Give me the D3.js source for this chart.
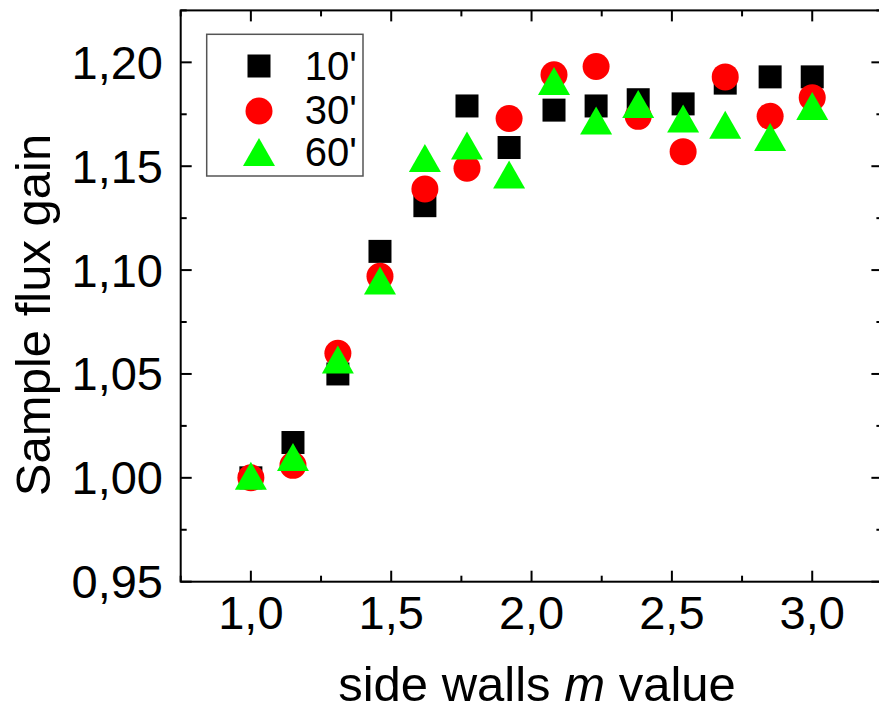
<!DOCTYPE html>
<html>
<head>
<meta charset="utf-8">
<script src="https://cdn.jsdelivr.net/npm/d3@7"></script>
<style>
  html, body { margin: 0; padding: 0; background: #fff; }
  svg { display: block; font-family: Arial, "Liberation Sans", sans-serif; }
</style>
</head>
<body>
<svg id="chart" width="879" height="711"></svg>
<script>
// ---- data ----
const mValues = [1.00, 1.15, 1.31, 1.46, 1.62, 1.77, 1.92, 2.08, 2.23, 2.38, 2.54, 2.69, 2.85, 3.00];
const gain10 = [1.000, 1.017, 1.050, 1.109, 1.131, 1.179, 1.159, 1.177, 1.179, 1.182, 1.180, 1.190, 1.193, 1.193];
const gain30 = [1.000, 1.006, 1.060, 1.097, 1.139, 1.149, 1.173, 1.194, 1.198, 1.174, 1.157, 1.193, 1.174, 1.183];
const gain60 = [1.001, 1.010, 1.057, 1.095, 1.154, 1.160, 1.146, 1.191, 1.172, 1.180, 1.173, 1.170, 1.164, 1.179];
const seriesNames = ["10'", "30'", "60'"];
const xTickValues = [1.0, 1.5, 2.0, 2.5, 3.0];
const xTickLabels = ["1,0", "1,5", "2,0", "2,5", "3,0"];
const yTickValues = [0.95, 1.00, 1.05, 1.10, 1.15, 1.20];
const yTickLabels = ["0,95", "1,00", "1,05", "1,10", "1,15", "1,20"];
const xMinor = [0.75, 1.25, 1.75, 2.25, 2.75, 3.25];
const yMinor = [0.975, 1.025, 1.075, 1.125, 1.175, 1.225];

(function () {
// ---- layout ----
const svg = d3.select("#chart");
const pLeft = 180.7, pRight = 882.4, pTop = 10.4, pBottom = 581.7;
const x = d3.scaleLinear().domain([0.75, 3.25]).range([pLeft, pRight]);
const y = d3.scaleLinear().domain([0.95, 1.225]).range([pBottom, pTop]);

const fontSize = 47;
const axisColor = "#000";

// frame
svg.append("rect")
  .attr("x", pLeft).attr("y", pTop)
  .attr("width", pRight - pLeft).attr("height", pBottom - pTop)
  .attr("fill", "none").attr("stroke", axisColor).attr("stroke-width", 2);

// ticks (inward) on all four sides
function addTicks(vals, len) {
  const g = svg.append("g").attr("stroke", axisColor).attr("stroke-width", 2);
  vals.x.forEach(v => {
    const px = x(v);
    g.append("line").attr("x1", px).attr("x2", px).attr("y1", pBottom).attr("y2", pBottom - len);
    g.append("line").attr("x1", px).attr("x2", px).attr("y1", pTop).attr("y2", pTop + len);
  });
  vals.y.forEach(v => {
    const py = y(v);
    g.append("line").attr("x1", pLeft).attr("x2", pLeft + len).attr("y1", py).attr("y2", py);
    g.append("line").attr("x1", pRight).attr("x2", pRight - len).attr("y1", py).attr("y2", py);
  });
}
addTicks({x: xTickValues, y: yTickValues}, 11);
addTicks({x: xMinor, y: yMinor}, 6);

// tick labels
svg.append("g").selectAll("text").data(xTickValues).join("text")
  .attr("x", d => x(d)).attr("y", 629)
  .attr("text-anchor", "middle").attr("font-size", fontSize).attr("fill", "#000")
  .text((d, i) => xTickLabels[i]);
svg.append("g").selectAll("text").data(yTickValues).join("text")
  .attr("x", 163).attr("y", d => y(d))
  .attr("dy", "0.35em")
  .attr("text-anchor", "end").attr("font-size", fontSize).attr("fill", "#000")
  .text((d, i) => yTickLabels[i]);

// axis titles
const xt = svg.append("text")
  .attr("x", 537).attr("y", 701)
  .attr("text-anchor", "middle").attr("font-size", 49).attr("fill", "#000");
xt.append("tspan").text("side walls ");
xt.append("tspan").attr("font-style", "italic").text("m");
xt.append("tspan").text(" value");

svg.append("text")
  .attr("transform", "translate(50,315) rotate(-90)")
  .attr("text-anchor", "middle").attr("font-size", 49).attr("fill", "#000")
  .text("Sample flux gain");

// markers
const sq = 23, cr = 13.5, triW = 32, triH = 28;
function triPath(cx, cy) {
  return `M${cx},${cy - triH / 2}L${cx + triW / 2},${cy + triH / 2}L${cx - triW / 2},${cy + triH / 2}Z`;
}
const plot = svg.append("g");
plot.selectAll("rect.s10").data(mValues).join("rect").attr("class", "s10")
  .attr("x", (d) => x(d) - sq / 2).attr("y", (d, i) => y(gain10[i]) - sq / 2)
  .attr("width", sq).attr("height", sq).attr("fill", "#000");
plot.selectAll("circle.s30").data(mValues).join("circle").attr("class", "s30")
  .attr("cx", d => x(d)).attr("cy", (d, i) => y(gain30[i]))
  .attr("r", cr).attr("fill", "#ff0000");
plot.selectAll("path.s60").data(mValues).join("path").attr("class", "s60")
  .attr("d", (d, i) => triPath(x(d), y(gain60[i])))
  .attr("fill", "#00ff00");

// legend
const lg = svg.append("g");
lg.append("rect").attr("x", 206.7).attr("y", 34.3).attr("width", 156.3).attr("height", 141.7)
  .attr("fill", "#fff").attr("stroke", "#555").attr("stroke-width", 1.5);
const lx = 259, ly = [66, 111, 152], lb = [80, 124, 166];
lg.append("rect").attr("x", lx - sq / 2).attr("y", ly[0] - sq / 2).attr("width", sq).attr("height", sq).attr("fill", "#000");
lg.append("circle").attr("cx", lx).attr("cy", ly[1]).attr("r", cr).attr("fill", "#ff0000");
lg.append("path").attr("d", triPath(lx, ly[2])).attr("fill", "#00ff00");
lg.selectAll("text").data(seriesNames).join("text")
  .attr("x", 357).attr("y", (d, i) => lb[i]).attr("text-anchor", "end")
  .attr("font-size", 40).attr("fill", "#000").text(d => d);
})();
</script>
</body>
</html>
